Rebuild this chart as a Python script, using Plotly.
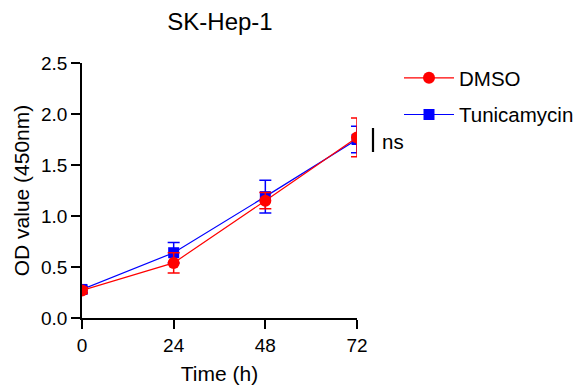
import plotly.graph_objects as go

time_h = [0, 24, 48, 72]
dmso_mean = [0.27, 0.54, 1.15, 1.77]
dmso_err = [0.03, 0.10, 0.08, 0.19]
tuni_mean = [0.28, 0.64, 1.19, 1.75]
tuni_err = [0.03, 0.10, 0.16, 0.13]
x_ticks = [0, 24, 48, 72]
y_ticks = [0.0, 0.5, 1.0, 1.5, 2.0, 2.5]

FONT = "Liberation Sans, Arial, sans-serif"

# page body has an 8px margin; figure coordinates below are offset accordingly
W, H = 574, 384
L, R, T, B = 74, 225, 55, 74
PW, PH = W - L - R, H - T - B

def px(xpix):
    return (xpix - 8 - L) / PW

def py(ypix):
    return (H - B - (ypix - 8)) / PH

fig = go.Figure()
fig.add_trace(go.Scatter(
    x=time_h, y=tuni_mean, name="Tunicamycin", mode="lines+markers",
    line=dict(color="#0000FF", width=1.2),
    marker=dict(symbol="square", size=11, color="#0000FF"),
    error_y=dict(type="data", array=tuni_err, color="#0000FF", thickness=1.5, width=6),
    legendgroup="tuni", legendrank=2,
))
fig.add_trace(go.Scatter(
    x=time_h, y=dmso_mean, name="DMSO", mode="lines+markers",
    line=dict(color="#FF0000", width=1.2),
    marker=dict(symbol="circle", size=12, color="#FF0000"),
    error_y=dict(type="data", array=dmso_err, color="#FF0000", thickness=1.5, width=6),
    legendgroup="dmso", legendrank=1,
))

fig.update_layout(
    width=W, height=H,
    margin=dict(l=L, r=R, t=T, b=B, autoexpand=False),
    paper_bgcolor="white", plot_bgcolor="white",
    font=dict(family=FONT, color="black", size=18),
    title=dict(text="SK-Hep-1", x=(220 - 8) / W, xanchor="center", y=1 - 14 / H, yanchor="middle",
               font=dict(size=24, family=FONT, color="black")),
    legend=dict(x=px(399), y=py(58), xanchor="left", yanchor="top", traceorder="grouped",
                tracegroupgap=7, itemwidth=50,
                font=dict(size=20.5, family=FONT), bgcolor="rgba(0,0,0,0)"),
    xaxis=dict(range=[0, 72], tickvals=x_ticks, showgrid=False, zeroline=False,
               showline=True, linecolor="black", linewidth=1.5, ticks="outside",
               ticklen=9, tickwidth=1.5, tickcolor="black", automargin=False,
               title=dict(text="Time (h)", font=dict(size=21), standoff=12),
               tickfont=dict(size=19)),
    yaxis=dict(range=[0, 2.5], tickvals=y_ticks, tickformat=".1f", showgrid=False, zeroline=False,
               showline=True, linecolor="black", linewidth=1.5, ticks="outside",
               ticklen=9, tickwidth=1.5, tickcolor="black", automargin=False,
               title=dict(text="OD value (450nm)", font=dict(size=21), standoff=6),
               tickfont=dict(size=19)),
)

fig.add_shape(type="line", xref="paper", yref="paper",
              x0=px(373), x1=px(373), y0=py(128), y1=py(152),
              line=dict(color="black", width=2.2))
fig.add_annotation(text="ns", xref="paper", yref="paper",
                   x=px(380), y=py(141), xanchor="left", yanchor="middle",
                   showarrow=False, font=dict(size=20.5, family=FONT, color="black"))

fig.write_html("out.html")
